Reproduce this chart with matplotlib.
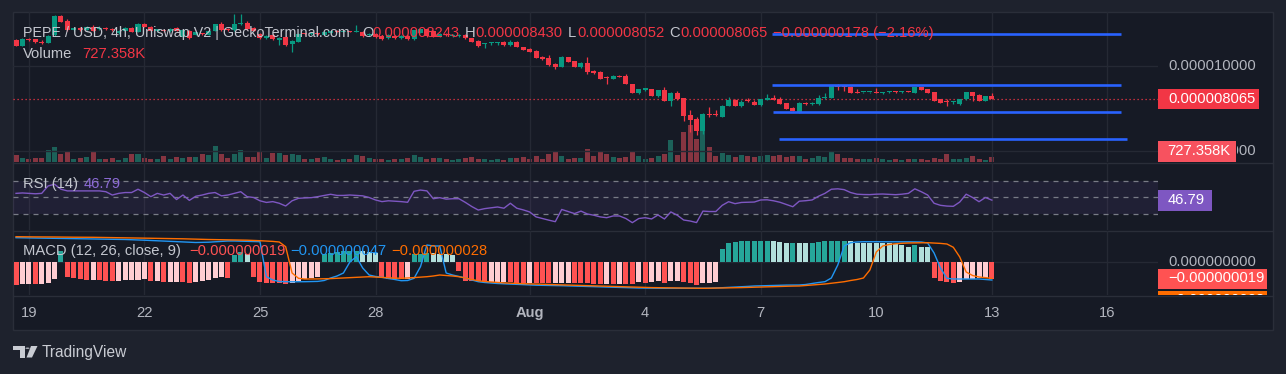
import matplotlib
matplotlib.use("Agg")
import matplotlib.pyplot as plt
from matplotlib.patches import Rectangle, Polygon, Circle
from matplotlib.lines import Line2D
from matplotlib import transforms as mt

plt.rcParams['font.family'] = ['Liberation Sans', 'DejaVu Sans']

# ---------------- data (prices in millionths of USD) ----------------
PRICE_UNIT = 1e-6
opens = [11.53, 11.20, 11.56, 11.56, 11.41, 11.37, 11.79, 12.93, 12.64, 12.14,
         12.20, 12.14, 12.29, 12.17, 12.23, 12.19, 11.94, 12.08, 12.23, 11.99,
         12.46, 12.29, 12.08, 12.11, 12.05, 12.21, 11.72, 12.07, 11.82, 11.88,
         11.82, 12.07, 12.46, 12.14, 12.11, 12.46, 12.54, 12.21, 11.88, 11.62,
         11.82, 11.53, 11.68, 11.27, 11.43, 11.88, 11.86, 11.89, 11.82, 11.94,
         12.07, 12.01, 12.05, 12.01, 12.01, 11.79, 11.88, 11.76, 11.62, 11.76,
         11.62, 11.76, 11.56, 11.95, 12.15, 12.07, 11.72, 11.85, 11.77, 11.77,
         11.82, 11.62, 11.48, 11.27, 11.32, 11.32, 11.39, 11.21, 11.43, 11.10,
         11.00, 10.88, 10.55, 10.49, 10.12, 9.96, 10.51, 10.29, 9.96, 10.19,
         9.72, 9.67, 9.30, 9.24, 9.41, 9.43, 8.94, 8.40, 8.62, 8.65,
         8.26, 8.59, 7.97, 8.40, 8.11, 7.13, 6.89, 6.19, 7.16, 7.13,
         7.03, 7.67, 8.01, 7.67, 7.97, 7.91, 7.71, 8.03, 8.05, 8.05,
         7.81, 7.55, 7.32, 7.82, 7.75, 7.77, 8.14, 8.14, 8.81, 8.77,
         8.75, 8.49, 8.45, 8.45, 8.49, 8.44, 8.45, 8.49, 8.46, 8.51,
         8.43, 8.75, 8.65, 8.49, 8.05, 7.90, 7.86, 7.77, 8.05, 8.46,
         8.30, 7.97, 8.243]
highs = [11.58, 11.64, 11.64, 11.58, 11.50, 11.82, 12.99, 12.99, 12.76, 12.29,
         12.29, 12.35, 12.40, 12.35, 12.29, 12.23, 12.14, 12.29, 12.26, 12.52,
         12.52, 12.35, 12.17, 12.17, 12.23, 12.29, 12.17, 12.11, 11.99, 11.94,
         12.11, 12.49, 12.58, 12.23, 13.05, 13.05, 12.64, 12.29, 11.94, 11.79,
         11.88, 11.70, 11.76, 11.53, 11.91, 11.94, 11.94, 11.94, 12.05, 12.11,
         12.11, 12.08, 12.08, 12.40, 12.05, 11.91, 11.91, 11.79, 11.85, 11.82,
         11.79, 11.79, 12.14, 12.17, 12.17, 12.11, 11.91, 11.91, 11.88, 11.88,
         11.85, 11.64, 11.53, 11.32, 11.38, 11.38, 11.44, 11.53, 11.47, 11.11,
         11.03, 10.91, 10.59, 10.65, 10.15, 10.59, 10.53, 10.32, 10.24, 10.55,
         9.79, 9.71, 9.43, 9.47, 9.47, 9.53, 8.97, 8.65, 8.71, 8.68,
         8.62, 8.75, 8.45, 8.53, 8.12, 7.42, 7.03, 7.24, 7.61, 7.42,
         7.73, 8.16, 8.04, 8.01, 8.12, 7.98, 8.07, 8.36, 8.30, 8.18,
         7.83, 7.60, 7.86, 7.89, 7.89, 8.30, 8.40, 8.89, 8.94, 8.86,
         8.80, 8.67, 8.50, 8.50, 8.69, 8.50, 8.51, 8.53, 8.51, 8.56,
         8.77, 8.77, 8.68, 8.50, 8.07, 8.05, 7.92, 8.07, 8.48, 8.48,
         8.33, 8.27, 8.430]
lows = [11.17, 11.17, 11.44, 11.35, 11.29, 11.35, 11.76, 12.58, 12.08, 12.08,
        12.05, 12.11, 12.05, 12.11, 12.14, 12.05, 11.85, 12.05, 11.97, 11.97,
        12.26, 12.05, 12.02, 11.99, 12.02, 12.05, 11.70, 11.60, 11.79, 11.79,
        11.79, 12.05, 12.08, 12.05, 12.08, 12.43, 12.14, 12.05, 11.61, 11.61,
        11.55, 11.23, 11.20, 10.84, 11.41, 11.82, 11.82, 11.82, 11.79, 11.88,
        11.97, 11.99, 11.97, 11.99, 11.73, 11.76, 11.67, 11.55, 11.61, 11.61,
        11.61, 11.55, 11.55, 11.94, 11.73, 11.70, 11.70, 11.76, 11.70, 11.70,
        11.61, 11.41, 11.14, 11.04, 11.23, 11.23, 11.20, 11.20, 11.09, 10.91,
        10.82, 10.47, 10.38, 10.00, 9.81, 9.94, 10.24, 9.94, 9.91, 9.51,
        9.56, 9.22, 8.93, 9.21, 9.33, 8.93, 8.39, 8.36, 8.56, 8.24,
        8.21, 7.95, 7.67, 8.03, 6.79, 6.15, 5.95, 6.01, 7.01, 7.04,
        7.01, 7.65, 7.65, 7.60, 7.89, 7.70, 7.68, 8.01, 8.01, 7.75,
        7.46, 7.34, 7.27, 7.74, 7.74, 7.74, 8.09, 8.12, 8.59, 8.53,
        8.42, 8.39, 8.39, 8.39, 8.40, 8.36, 8.42, 8.42, 8.42, 8.46,
        8.42, 8.57, 8.43, 7.95, 7.85, 7.67, 7.80, 7.74, 8.03, 7.97,
        7.96, 7.95, 8.052]
closes = [11.20, 11.58, 11.50, 11.38, 11.36, 11.76, 12.93, 12.60, 12.11, 12.20,
          12.14, 12.29, 12.07, 12.23, 12.19, 12.11, 12.08, 12.23, 11.99, 12.46,
          12.29, 12.07, 12.11, 12.05, 12.17, 12.07, 12.11, 11.62, 11.97, 11.86,
          12.07, 12.46, 12.11, 12.11, 12.46, 12.50, 12.15, 12.07, 11.62, 11.76,
          11.56, 11.62, 11.23, 11.48, 11.88, 11.86, 11.89, 11.86, 12.01, 12.07,
          12.01, 12.05, 12.01, 12.04, 11.76, 11.88, 11.68, 11.56, 11.82, 11.62,
          11.76, 11.56, 12.11, 12.15, 11.76, 11.72, 11.88, 11.82, 11.80, 11.80,
          11.62, 11.43, 11.17, 11.29, 11.33, 11.33, 11.23, 11.43, 11.10, 10.94,
          10.84, 10.49, 10.39, 10.06, 9.96, 10.55, 10.25, 9.96, 10.19, 9.67,
          9.59, 9.24, 9.27, 9.43, 9.37, 8.93, 8.40, 8.65, 8.64, 8.26,
          8.59, 7.97, 8.40, 8.05, 7.07, 6.83, 6.19, 7.19, 7.11, 7.10,
          7.67, 8.01, 7.67, 7.91, 7.95, 7.71, 8.05, 8.05, 8.03, 7.77,
          7.48, 7.36, 7.81, 7.78, 7.85, 8.11, 8.17, 8.83, 8.78, 8.74,
          8.43, 8.40, 8.46, 8.46, 8.42, 8.46, 8.47, 8.45, 8.47, 8.47,
          8.75, 8.59, 8.43, 7.97, 7.85, 7.86, 7.89, 8.05, 8.46, 8.24,
          7.97, 8.243, 8.065]
volumes_k = [970, 580, 390, 580, 580, 1700, 2180, 1120, 1550, 390,
             580, 730, 1550, 390, 390, 580, 330, 580, 1200, 1200,
             580, 390, 390, 830, 390, 680, 580, 730, 730, 1120,
             970, 2280, 1200, 580, 1200, 1700, 730, 730, 1550, 580,
             1300, 1300, 970, 1200, 970, 390, 390, 580, 730, 390,
             290, 390, 390, 1020, 870, 580, 390, 390, 290, 390,
             390, 580, 970, 730, 390, 580, 580, 390, 290, 390,
             580, 730, 390, 390, 290, 390, 290, 540, 540, 730,
             440, 870, 440, 1160, 1450, 870, 440, 580, 580, 1890,
             870, 1450, 1160, 730, 580, 730, 1600, 870, 440, 580,
             870, 1160, 3190, 1020, 4350, 5370, 3340, 4500, 2180, 870,
             1300, 1020, 730, 1020, 870, 730, 870, 1020, 870, 1020,
             730, 870, 870, 440, 580, 870, 730, 1450, 1160, 580,
             580, 440, 440, 440, 580, 440, 360, 440, 360, 440,
             440, 440, 360, 580, 440, 1160, 440, 440, 580, 870,
             440, 360, 727.358]
rsi = [55, 55.5, 55, 54.5, 55, 64, 66, 60, 58, 58,
       58, 58, 58, 58, 57, 53, 55, 56, 56, 60,
       56, 51, 55, 53, 55, 47.5, 53, 46.5, 51.5, 53,
       55, 56, 52, 53, 55, 57, 51, 50, 46, 44,
       45, 43, 39.7, 46, 49, 49.5, 49.8, 51, 52.5, 53.9,
       52.5, 52.5, 53, 52.5, 52, 50, 47, 45, 46, 45.5,
       45, 44.2, 57.5, 59, 58, 48.5, 49.8, 48, 48.5, 48.5,
       44, 39, 34.8, 36.5, 37.5, 38.5, 37, 43, 37, 35,
       32.5, 26.5, 24.5, 22.5, 20.7, 35.5, 33, 30.5, 33.5, 30,
       28.5, 26.5, 25.5, 27.6, 27.6, 24.5, 19.5, 24.5, 25.5, 24,
       28.8, 24, 32.5, 28.5, 22.7, 21.5, 19.6, 33.5, 33, 33,
       40.5, 44.9, 42.5, 44, 44.2, 44.5, 47, 47.2, 46, 44.2,
       41.5, 38.8, 45.5, 46.1, 47, 51.5, 55, 60, 60.5, 59.5,
       56, 54, 53.6, 53.5, 54, 54.2, 53.8, 53.4, 54, 55,
       60.5, 57, 53, 43, 40.5, 39.6, 39.3, 44.5, 54, 50,
       44.9, 50, 46.79]
# MACD pane values, in units of 1e-9 USD
macd_hist = [-22.5, -22.3, -22.0, -22.4, -22.2, -21.0, -17.0, 11.0, -15.0, -16.0,
             -17.0, -17.8, -17.5, -18.0, -18.6, -18.8, -18.5, -18.3, -18.1, -18.0,
             -17.0, -19.0, -18.8, -20.0, -19.8, -19.6, -19.8, -21.0, -20.0, -19.0,
             -18.0, -16.0, -15.0, -16.0, 7.0, 10.0, 8.0, -15.0, -20.0, -21.0,
             -21.2, -21.4, -21.6, -21.3, -19.0, -16.5, -16.0, -15.0, 8.0, 9.0,
             10.0, 11.0, 11.3, 11.5, 11.0, 10.0, 9.0, -15.0, -17.0, -17.2,
             -17.4, -17.0, 8.0, 8.5, 9.0, 8.8, 8.5, 8.0, 7.0, -9.0,
             -19.0, -19.2, -19.4, -20.0, -19.9, -19.8, -19.7, -20.0, -20.5, -21.0,
             -20.8, -21.0, -21.2, -21.4, -21.2, -21.0, -20.8, -21.0, -21.2, -21.4,
             -21.6, -21.8, -21.5, -21.7, -21.5, -21.7, -22.0, -20.0, -21.0, -20.0,
             -19.0, -21.0, -19.0, -18.8, -20.0, -21.0, -23.0, -21.0, -20.5, -19.5,
             13.0, 19.0, 20.0, 21.0, 21.1, 21.2, 21.3, 21.4, 21.2, 20.0,
             19.0, 19.2, 19.0, 18.8, 19.0, 20.0, 21.0, 21.1, 21.2, 21.3,
             21.0, 19.5, 19.4, 19.3, 19.2, 19.1, 19.0, 18.0, 17.0, 15.0,
             17.0, 15.5, 15.0, -16.0, -19.0, -20.0, -21.0, -20.0, -17.0, -16.8,
             -16.3, -16.0, -16.5]
macd_line = [24.3, 24.2, 24.1, 24.0, 23.9, 23.8, 23.7, 23.6, 23.5, 23.4,
             23.3, 23.2, 23.1, 23.0, 23.0, 22.9, 22.7, 22.5, 22.3, 22.0,
             21.8, 21.5, 21.2, 20.9, 20.6, 20.3, 20.0, 19.8, 19.5, 19.6,
             19.8, 20.2, 20.6, 21.0, 21.0, 20.8, 20.6, 20.5, 20.3, -14.7,
             -18.0, -19.5, -19.7, -19.8, -19.8, -19.7, -19.6, -19.4, -18.5, -16.0,
             -14.0, -11.0, 0.0, 5.3, -6.0, -13.0, -14.5, -15.3, -16.5, -17.5,
             -18.7, -18.5, -16.3, -4.7, 17.0, 16.0, 16.0, -11.0, -13.0, -14.5,
             -16.0, -18.0, -19.7, -20.5, -21.0, -21.5, -21.8, -22.0, -22.5, -22.7,
             -23.0, -23.2, -23.3, -23.4, -23.5, -23.7, -23.9, -24.1, -24.3, -24.5,
             -24.7, -24.9, -25.1, -25.3, -25.5, -25.7, -25.9, -26.0, -26.1, -26.2,
             -26.3, -26.3, -26.3, -26.3, -26.3, -26.3, -26.3, -26.3, -26.2, -26.0,
             -25.7, -25.4, -25.1, -24.8, -24.4, -24.0, -23.8, -23.6, -23.4, -23.2,
             -23.1, -23.0, -23.0, -22.5, -21.5, -20.5, -19.7, -16.0, -3.0, 16.0,
             19.3, 20.0, 20.3, 20.3, 20.3, 20.3, 20.3, 20.3, 20.2, 20.2,
             20.1, 20.0, 19.0, 9.0, -6.0, -16.3, -17.0, -17.0, -17.0, -17.0,
             -17.0, -17.5, -18.0]
signal_line = [25.3, 25.2, 25.2, 25.1, 25.1, 25.0, 25.0, 24.9, 24.9, 24.8,
               24.8, 24.7, 24.7, 24.6, 24.6, 24.5, 24.4, 24.3, 24.2, 24.1,
               24.0, 23.9, 23.8, 23.7, 23.6, 23.4, 23.2, 23.0, 22.8, 22.6,
               22.5, 22.4, 22.3, 22.2, 22.1, 22.0, 21.8, 21.6, 21.3, 21.0,
               20.6, 20.0, 15.3, -11.0, -16.3, -17.0, -17.0, -16.9, -16.8, -16.6,
               -16.3, -16.0, -15.7, -15.4, -15.0, -14.7, -15.0, -15.4, -15.8, -16.1,
               -16.3, -16.0, -15.6, -15.2, -14.7, -14.0, -13.0, -13.5, -14.0, -14.7,
               -16.0, -17.5, -18.7, -19.5, -20.0, -20.5, -20.9, -21.2, -21.5, -21.7,
               -21.9, -22.0, -22.3, -22.5, -22.7, -22.9, -23.1, -23.3, -23.5, -23.7,
               -23.9, -24.1, -24.3, -24.5, -24.7, -24.9, -25.1, -25.3, -25.5, -25.6,
               -25.7, -25.8, -25.9, -26.0, -26.1, -26.2, -26.3, -26.3, -26.2, -26.1,
               -26.0, -25.9, -25.8, -25.6, -25.4, -25.3, -25.1, -24.9, -24.7, -24.5,
               -24.3, -24.1, -24.0, -23.5, -23.0, -22.5, -22.0, -21.3, -20.5, -19.7,
               -18.5, -17.5, -16.0, -8.0, 10.0, 16.0, 17.5, 18.2, 18.7, 19.0,
               19.1, 19.2, 19.3, 19.0, 18.6, 18.0, 14.7, 5.0, -10.0, -13.5,
               -15.0, -15.7, -16.3]
macd_legend = ["\u22120.000000019", "\u22120.000000047", "\u22120.000000028"]
# horizontal drawing levels (price) and their start/end bar positions
level_prices = [11.88, 8.89, 7.30, 5.69]
level_start = [117.8, 117.8, 117.9, 118.8]
level_end = [172.1, 172.1, 172.1, 173.1]
tick_idx = [2, 20, 38, 56, 80, 98, 116, 134, 152, 170]
tick_labels = ['19', '22', '25', '28', 'Aug', '4', '7', '10', '13', '16']
price_ticks = [10.0, 5.0]

# ---------------- style ----------------
W, H = 1286, 374
BG_OUT = '#1e222d'
BG_IN = '#161a25'
GRID = '#252934'
SEP = '#2a2e39'
TXT = '#c3c6ce'
AXT = '#b2b5be'
UP, DOWN = '#089981', '#f23645'
VUP, VDOWN = '#1c6159', '#863541'
BLUE = '#2196f3'
ORANGE = '#ff6d00'
PURPLE = '#7e57c2'
FS = 10.6

fig = plt.figure(figsize=(W / 100, H / 100), dpi=100)
fig.patch.set_facecolor(BG_OUT)


def frac(x0, y0, x1, y1):
    return [x0 / W, 1 - y1 / H, (x1 - x0) / W, (y1 - y0) / H]


fig.add_artist(Rectangle((13 / W, 1 - 330 / H), 1260 / W, 318 / H, transform=fig.transFigure,
                         facecolor=BG_IN, edgecolor=SEP, lw=1.0, zorder=-5))
for yy in (162.5, 230.5, 295.5):
    fig.add_artist(Line2D([13 / W, 1273 / W], [1 - yy / H, 1 - yy / H], color=SEP, lw=1.0,
                          transform=fig.transFigure, zorder=-4))

PL, PR, RR = 13, 1158, 1273


def mkax(y0, y1, x0=PL, x1=PR):
    ax = fig.add_axes(frac(x0, y0, x1, y1))
    ax.set_facecolor('none')
    for s in ax.spines.values():
        s.set_visible(False)
    ax.set_xticks([])
    ax.set_yticks([])
    return ax


n = len(closes)
idx = list(range(n))
XL = (-0.47, 177.88)
up = [c >= o for o, c in zip(opens, closes)]

# ---- volume (behind price) ----
ax_vol = mkax(12, 162)
ax_vol.set_xlim(XL)
ax_vol.set_ylim(0, 21750)
ax_vol.bar(idx, volumes_k, width=0.78, color=[VUP if u else VDOWN for u in up], lw=0)

# ---- price ----
ax_p = mkax(12, 162)
ax_p.set_xlim(XL)
PY = (4.370, 13.167)
ax_p.set_ylim(PY)
for t in tick_idx:
    ax_p.axvline(t, color=GRID, lw=1.0, zorder=0)
for v in price_ticks:
    ax_p.axhline(v, color=GRID, lw=1.0, zorder=0)
ax_p.axhline(closes[-1], color=DOWN, lw=0.9, ls=(0, (1, 2.2)), zorder=1)
cols = [UP if u else DOWN for u in up]
ax_p.vlines(idx, lows, highs, colors=cols, lw=0.9, zorder=2)
dpp = (PY[1] - PY[0]) / 150.0
bots = [min(o, c) for o, c in zip(opens, closes)]
hts = [max(abs(c - o), 1.1 * dpp) for o, c in zip(opens, closes)]
ax_p.bar(idx, hts, bottom=bots, width=0.78, color=cols, lw=0, zorder=3)
ax_p.hlines(level_prices, level_start, level_end, colors='#2962ff', lw=1.9, zorder=4)

# ---- RSI ----
ax_r = mkax(163, 230)
ax_r.set_xlim(XL)
RY = (10.6, 91.8)
ax_r.set_ylim(RY)
for t in tick_idx:
    ax_r.axvline(t, color=GRID, lw=1.0, zorder=0)
ax_r.axhspan(30, 70, color=PURPLE, alpha=0.1, lw=0, zorder=0)
for lv in (70, 50, 30):
    ax_r.axhline(lv, color='#787b86', lw=0.9, ls=(0, (4, 4)), zorder=1)
ax_r.plot(idx, rsi, color=PURPLE, lw=1.0, zorder=3)

# ---- MACD ----
ax_m = mkax(231, 295)
ax_m.set_xlim(XL)
MY = (-33, 31)
ax_m.set_ylim(MY)
for t in tick_idx:
    ax_m.axvline(t, color=GRID, lw=1.0, zorder=0)
ax_m.axhline(0, color=GRID, lw=1.0, zorder=0)
hcols = []
for i, h in enumerate(macd_hist):
    d = h - macd_hist[i - 1] if i > 0 else 0.0
    if h >= 0:
        hcols.append('#26a69a' if d >= 0 else '#b2dfdb')
    else:
        hcols.append('#ffcdd2' if d > 0 else '#ff5252')
ax_m.bar(idx, macd_hist, width=0.78, color=hcols, lw=0, zorder=2)
ax_m.plot(idx, macd_line, color=BLUE, lw=1.0, zorder=3)
ax_m.plot(idx, signal_line, color=ORANGE, lw=1.0, zorder=4)

# time axis labels
blend = mt.blended_transform_factory(ax_m.transData, fig.transFigure)
for t, lab in zip(tick_idx, tick_labels):
    ax_m.text(t, 1 - 313 / H, lab, transform=blend, ha='center', va='center', color=AXT,
              fontsize=FS, fontweight='bold' if lab == 'Aug' else 'normal', clip_on=False)

# ---- right scales ----
ax_pr = mkax(12, 162, PR, RR)
ax_pr.set_xlim(0, RR - PR)
ax_pr.set_ylim(PY)
for v in price_ticks:
    t = ax_pr.text(10, v, f"{v * PRICE_UNIT:.9f}", color=AXT, fontsize=FS, va='center', clip_on=True)
    if v < closes[-1] - 2:
        # the volume tag covers the left part of this label
        t.set_clip_path(Rectangle((79 / 115, 0), 36 / 115, 1, transform=ax_pr.transAxes))
ax_pr.add_patch(Rectangle((0, closes[-1] - 10 * dpp), 101, 20 * dpp, fc=DOWN, ec='none', zorder=3))
ax_pr.text(10, closes[-1], f"{closes[-1] * PRICE_UNIT:.9f}", color='white', fontsize=FS, va='center', zorder=4)
ax_pr.add_patch(Rectangle((0, PY[0]), 78, 21 * dpp, fc='#f7525f', ec='none', zorder=3))
ax_pr.text(9, PY[0] + 10.5 * dpp, f"{volumes_k[-1]:.3f}K", color='white', fontsize=FS, va='center', zorder=4)

ax_rr = mkax(163, 230, PR, RR)
ax_rr.set_xlim(0, RR - PR)
ax_rr.set_ylim(RY)
rpp = (RY[1] - RY[0]) / 67.0
ax_rr.add_patch(Rectangle((0, rsi[-1] - 10.5 * rpp), 54, 21 * rpp, fc=PURPLE, ec='none'))
ax_rr.text(10, rsi[-1], f"{rsi[-1]:.2f}", color='white', fontsize=FS, va='center')

ax_mr = mkax(231, 295, PR, RR)
ax_mr.set_xlim(0, RR - PR)
ax_mr.set_ylim(MY)
mpp = (MY[1] - MY[0]) / 64.0
ax_mr.text(10, 0, "0.000000000", color=AXT, fontsize=FS, va='center', clip_on=True)
yc = macd_hist[-1]
ax_mr.add_patch(Rectangle((0, yc - 10 * mpp), 109, 20 * mpp, fc='#ff5252', ec='none', zorder=3))
ax_mr.text(10, yc, macd_legend[0], color='white', fontsize=FS, va='center', zorder=4, clip_on=True)
yc2 = yc - 22 * mpp
ax_mr.add_patch(Rectangle((0, yc2 - 10 * mpp), 109, 20 * mpp, fc=ORANGE, ec='none', zorder=3))
ax_mr.text(10, yc2, macd_legend[2], color='white', fontsize=FS, va='center', zorder=4, clip_on=True)


# ---- legends ----
def ftxt(x, y, s, color, fs=FS, **kw):
    fig.text(x / W, 1 - y / H, s, color=color, fontsize=fs, va='center', ha='left', **kw)


def fmt(v):
    return f"{v * PRICE_UNIT:.9f}".replace('-', '\u2212')


chg = closes[-1] - closes[-2]
pct = chg / closes[-2] * 100
ftxt(23, 33, "PEPE / USD, 4h, Uniswap V2 | GeckoTerminal.com", TXT, fs=10.3)
ftxt(362, 33, "O", TXT); ftxt(372, 33, fmt(opens[-1]), DOWN)
ftxt(465, 33, "H", TXT); ftxt(475, 33, fmt(highs[-1]), DOWN)
ftxt(568, 33, "L", TXT); ftxt(577, 33, fmt(lows[-1]), DOWN)
ftxt(669, 33, "C", TXT); ftxt(680, 33, fmt(closes[-1]), DOWN)
ftxt(773, 33, f"{fmt(chg)} ({pct:.2f}%)".replace('-', '\u2212'), DOWN)
ftxt(23, 54.5, "Volume", TXT); ftxt(82, 54.5, f"{volumes_k[-1]:.3f}K", DOWN)
ftxt(23, 184, "RSI (14)", TXT); ftxt(84, 184, f"{rsi[-1]:.2f}", '#8c6bd6')
ftxt(23, 251, "MACD (12, 26, close, 9)", TXT)
ftxt(189, 251, macd_legend[0], '#ff5252')
ftxt(290, 251, macd_legend[1], BLUE)
ftxt(391, 251, macd_legend[2], ORANGE)

# ---- TradingView logo ----
LC = '#c9ccd3'


def fp(x, y):
    return (x / W, 1 - y / H)


fig.add_artist(Polygon([fp(13, 346), fp(25, 346), fp(25, 357.5), fp(20, 357.5), fp(20, 350), fp(13, 350)],
                       closed=True, transform=fig.transFigure, fc=LC, ec='none'))
fig.add_artist(Circle(fp(27.5, 348.2), 2.1 / W, transform=fig.transFigure, fc=LC, ec='none'))
fig.add_artist(Polygon([fp(31, 346), fp(37.5, 346), fp(32, 357.5), fp(26.5, 357.5)],
                       closed=True, transform=fig.transFigure, fc=LC, ec='none'))
fig.text(42 / W, 1 - 352 / H, "TradingView", color=LC, fontsize=11.2, va='center', ha='left')

fig.savefig('out.png', dpi=100, facecolor=fig.get_facecolor())
